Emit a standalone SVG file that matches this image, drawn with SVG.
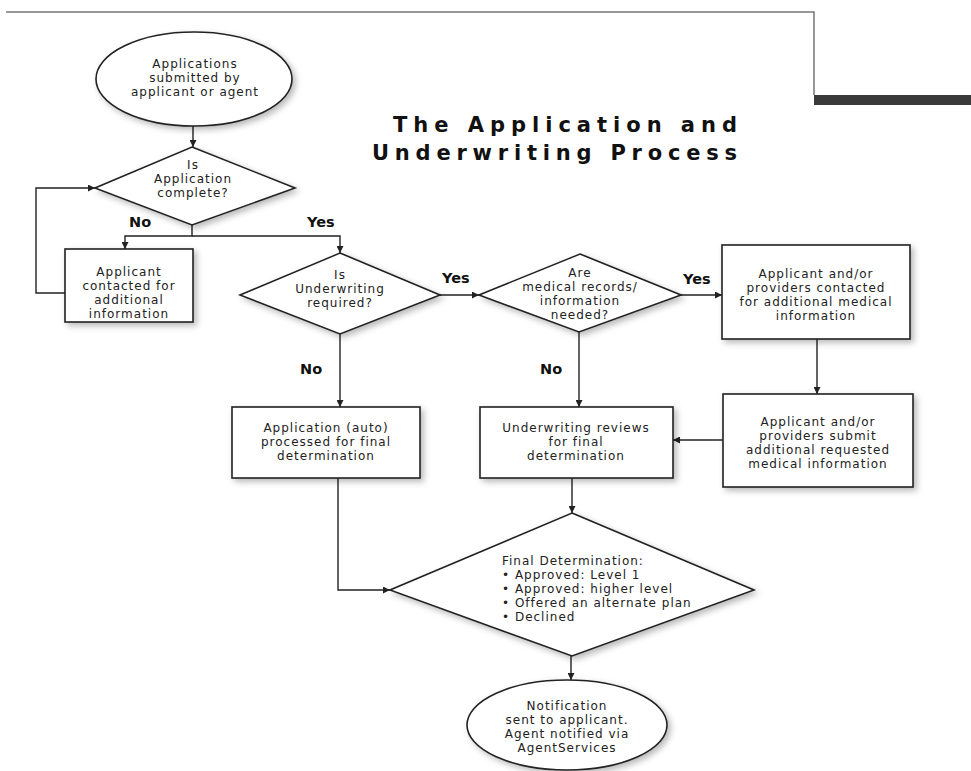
<svg xmlns="http://www.w3.org/2000/svg" width="971" height="771" viewBox="0 0 971 771">
<defs>
<marker id="arr" viewBox="0 0 10 10" refX="10" refY="5" markerWidth="8" markerHeight="7" markerUnits="userSpaceOnUse" orient="auto">
<path d="M0,0 L10,5 L0,10 Z" fill="#222"/>
</marker>
<filter id="sh" x="-10%" y="-10%" width="130%" height="130%">
<feDropShadow dx="3" dy="3" stdDeviation="3" flood-color="#000" flood-opacity="0.28"/>
</filter>
</defs>
<style>
.shape{fill:#fff;stroke:#222;stroke-width:1.6;filter:url(#sh)}
.t{font-family:"DejaVu Sans",sans-serif;font-size:12px;letter-spacing:1px;fill:#222;text-anchor:middle}
.tl{font-family:"DejaVu Sans",sans-serif;font-size:12px;letter-spacing:1px;fill:#222}
.lab{font-family:"DejaVu Sans",sans-serif;font-size:14.5px;font-weight:bold;fill:#111}
.ttl{font-family:"DejaVu Sans",sans-serif;font-size:21px;font-weight:bold;fill:#111;text-anchor:end}
.c{fill:none;stroke:#222;stroke-width:1.4}
</style>
<rect width="971" height="771" fill="#fff"/>
<g id="frame">
<path d="M6,12 H814 V95" fill="none" stroke="#777" stroke-width="1.5"/>
<rect x="814" y="95" width="157" height="10" fill="#3a3a3a"/>
</g>
<g id="title">
<text class="ttl" x="737" y="132" textLength="344" lengthAdjust="spacing">The Application and</text>
<text class="ttl" x="737" y="160" textLength="365" lengthAdjust="spacing">Underwriting Process</text>
</g>
<g id="connectors">
<line class="c" x1="193" y1="126" x2="193" y2="147" marker-end="url(#arr)"/>
<path class="c" d="M192,225 V236 H125 V249" marker-end="url(#arr)"/>
<path class="c" d="M192,236 H340 V253" marker-end="url(#arr)"/>
<path class="c" d="M65,293 H36 V188 H95" marker-end="url(#arr)"/>
<line class="c" x1="440" y1="295" x2="479" y2="295" marker-end="url(#arr)"/>
<line class="c" x1="681" y1="295" x2="722" y2="295" marker-end="url(#arr)"/>
<line class="c" x1="340" y1="334" x2="340" y2="407" marker-end="url(#arr)"/>
<line class="c" x1="579" y1="332" x2="579" y2="407" marker-end="url(#arr)"/>
<line class="c" x1="817" y1="339" x2="817" y2="394" marker-end="url(#arr)"/>
<line class="c" x1="723" y1="440" x2="673" y2="440" marker-end="url(#arr)"/>
<path class="c" d="M338,478 V590 H390" marker-end="url(#arr)"/>
<line class="c" x1="572" y1="478" x2="572" y2="513" marker-end="url(#arr)"/>
<line class="c" x1="571" y1="656" x2="571" y2="680" marker-end="url(#arr)"/>
<text class="lab" x="129" y="227">No</text>
<text class="lab" x="307" y="227">Yes</text>
<text class="lab" x="442" y="283">Yes</text>
<text class="lab" x="683" y="284">Yes</text>
<text class="lab" x="300" y="374">No</text>
<text class="lab" x="540" y="374">No</text>
</g>
<g id="start">
<ellipse class="shape" cx="194" cy="79" rx="98" ry="47"/>
<text class="t" x="195" y="68">Applications</text>
<text class="t" x="195" y="82">submitted by</text>
<text class="t" x="195" y="96">applicant or agent</text>
</g>
<g id="complete">
<polygon class="shape" points="192,147 295,188 192,225 95,188"/>
<text class="t" x="193" y="169">Is</text>
<text class="t" x="193" y="183">Application</text>
<text class="t" x="193" y="197">complete?</text>
</g>
<g id="contacted">
<rect class="shape" x="65" y="249" width="128" height="73"/>
<text class="t" x="129" y="276">Applicant</text>
<text class="t" x="129" y="290">contacted for</text>
<text class="t" x="129" y="304">additional</text>
<text class="t" x="129" y="318">information</text>
</g>
<g id="underwriting">
<polygon class="shape" points="340,253 440,295 340,334 240,295"/>
<text class="t" x="340" y="279">Is</text>
<text class="t" x="340" y="293">Underwriting</text>
<text class="t" x="340" y="307">required?</text>
</g>
<g id="medical">
<polygon class="shape" points="580,254 681,295 579,332 479,295"/>
<text class="t" x="580" y="277">Are</text>
<text class="t" x="580" y="291">medical records/</text>
<text class="t" x="580" y="305">information</text>
<text class="t" x="580" y="319">needed?</text>
</g>
<g id="contactmed">
<rect class="shape" x="722" y="245" width="188" height="94"/>
<text class="t" x="816" y="278">Applicant and/or</text>
<text class="t" x="816" y="292">providers contacted</text>
<text class="t" x="816" y="306">for additional medical</text>
<text class="t" x="816" y="320">information</text>
</g>
<g id="submitmed">
<rect class="shape" x="723" y="394" width="190" height="93"/>
<text class="t" x="818" y="426">Applicant and/or</text>
<text class="t" x="818" y="440">providers submit</text>
<text class="t" x="818" y="454">additional requested</text>
<text class="t" x="818" y="468">medical information</text>
</g>
<g id="auto">
<rect class="shape" x="232" y="407" width="188" height="71"/>
<text class="t" x="326" y="432">Application (auto)</text>
<text class="t" x="326" y="446">processed for final</text>
<text class="t" x="326" y="460">determination</text>
</g>
<g id="review">
<rect class="shape" x="480" y="407" width="193" height="71"/>
<text class="t" x="576" y="432">Underwriting reviews</text>
<text class="t" x="576" y="446">for final</text>
<text class="t" x="576" y="460">determination</text>
</g>
<g id="final">
<polygon class="shape" points="572,513 754,590 572,656 390,590"/>
<text class="tl" x="502" y="565">Final Determination:</text>
<text class="tl" x="502" y="579">• Approved: Level 1</text>
<text class="tl" x="502" y="593">• Approved: higher level</text>
<text class="tl" x="502" y="607">• Offered an alternate plan</text>
<text class="tl" x="502" y="621">• Declined</text>
</g>
<g id="notify">
<ellipse class="shape" cx="567" cy="725" rx="100" ry="45"/>
<text class="t" x="567" y="710">Notification</text>
<text class="t" x="567" y="724">sent to applicant.</text>
<text class="t" x="567" y="738">Agent notified via</text>
<text class="t" x="567" y="752">AgentServices</text>
</g>
</svg>
